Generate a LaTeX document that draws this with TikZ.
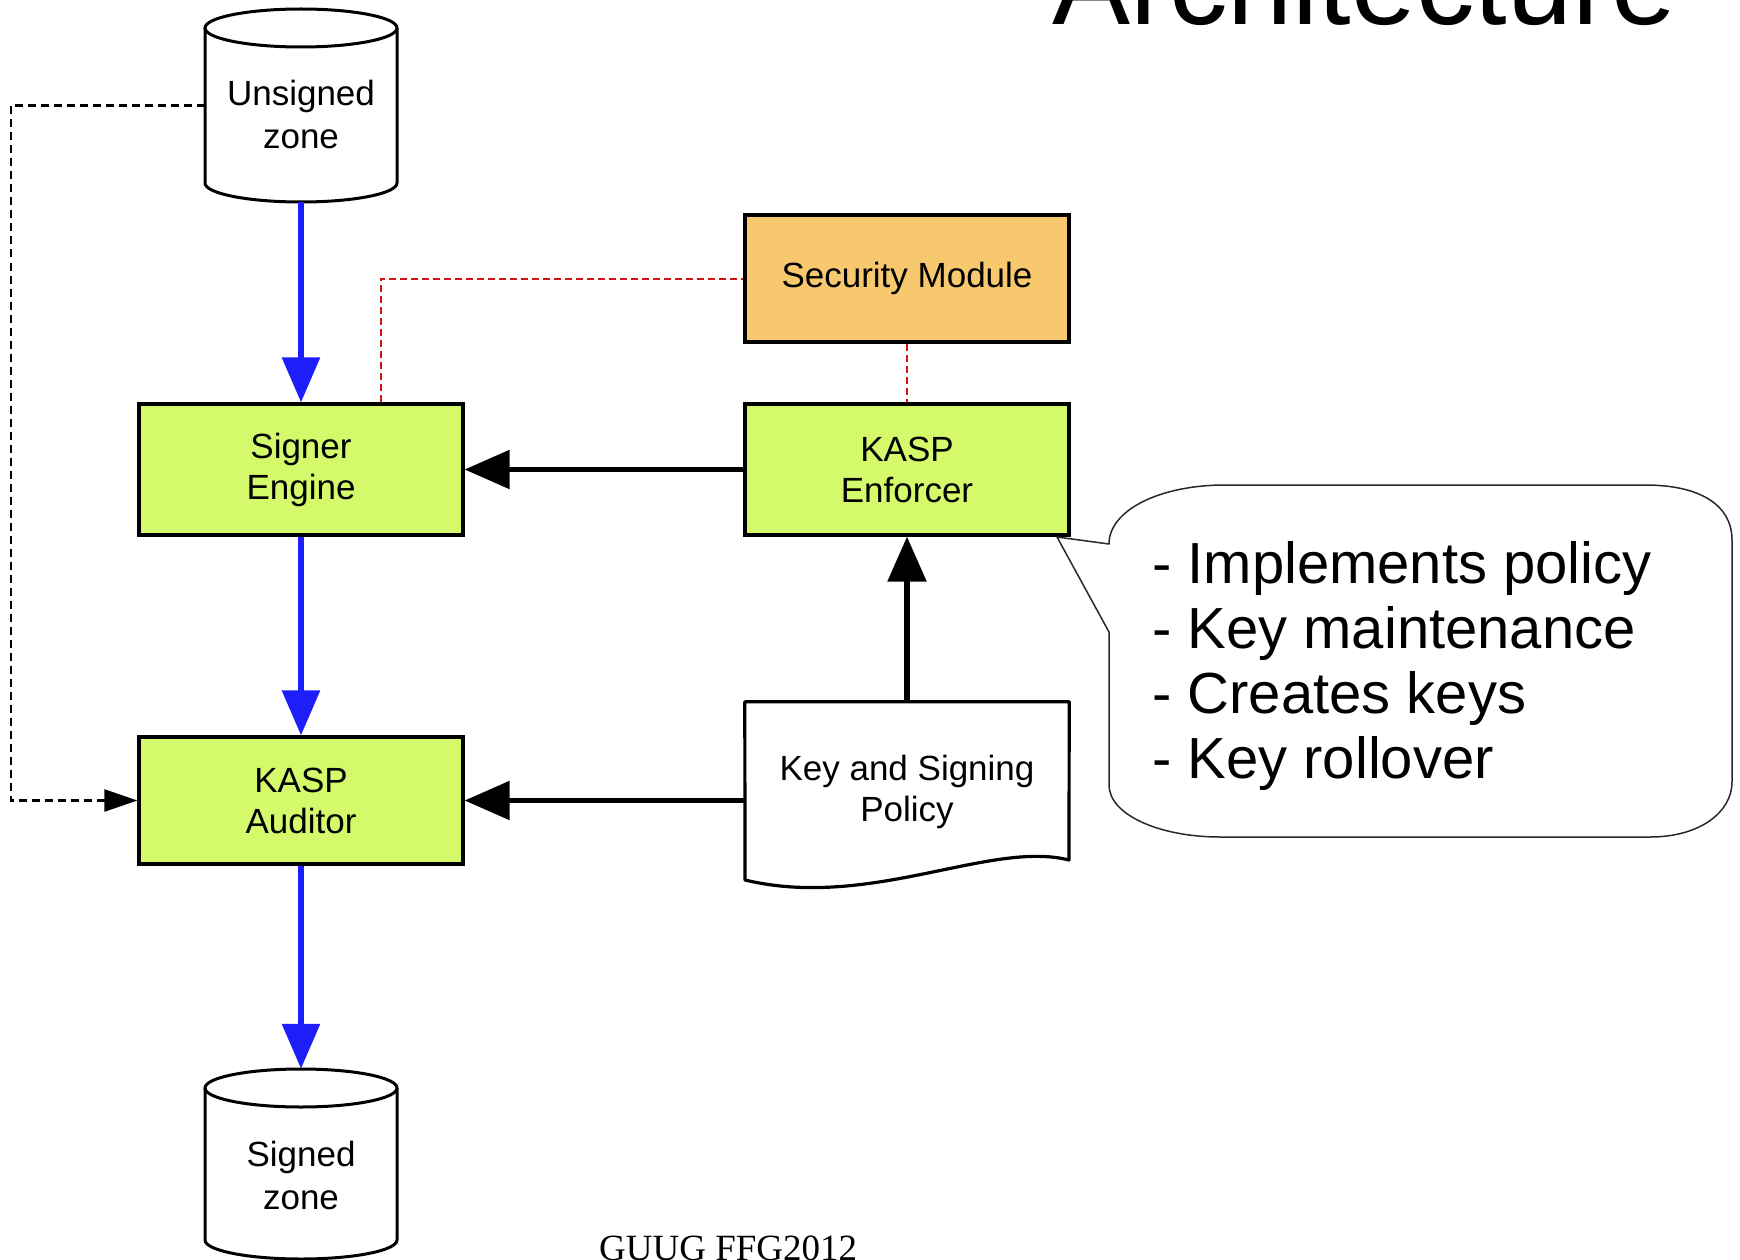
\documentclass[tikz,border=0pt]{standalone}
\usepackage{fontspec}
\setmainfont{Liberation Sans}
\newfontfamily\footerfont{Liberation Serif}
\usetikzlibrary{arrows.meta}
\definecolor{enginegreen}{RGB}{212,250,108}
\definecolor{moduleorange}{RGB}{248,200,110}
\definecolor{flowblue}{RGB}{30,30,250}
\definecolor{linkred}{RGB}{210,20,20}
\definecolor{bubblegray}{RGB}{40,40,40}
\begin{document}
\begin{tikzpicture}[x=1pt,y=-1pt,
  block/.style={draw=black, line width=3.2pt, minimum width=324pt, inner sep=0pt,
    align=center, font=\fontsize{35}{41}\selectfont},
  area/.style={draw=none, minimum width=192pt, inner sep=0pt},
  cyltext/.style={align=center, inner sep=0pt, font=\fontsize{35}{43}\selectfont},
  cylline/.style={draw=black, line width=3pt},
  flow/.style={draw=flowblue, line width=6pt, -{Triangle[length=45pt,width=37pt]}},
  feed/.style={draw=black, line width=5.5pt, -{Triangle[length=45pt,width=38pt]}},
  zonelink/.style={draw=black, line width=2.4pt, dash pattern=on 8pt off 5pt,
    -{Triangle[length=33pt,width=22pt]}},
  keylink/.style={draw=linkred, line width=2pt, dash pattern=on 7pt off 4pt},
  bubble/.style={draw=bubblegray, line width=1.5pt, fill=white, line join=round},
  note/.style={anchor=base west, inner sep=0pt, font=\fontsize{58}{65}\selectfont}
]
% page
\fill[white] (0,0) rectangle (1740,1260);
\useasboundingbox (0,0) rectangle (1740,1260);

% title and footer
\node[anchor=base west, inner sep=0pt, font=\fontsize{117}{120}\selectfont] (title) at (1052,25) {Architecture};
\node[anchor=base west, inner sep=0pt, font=\footerfont\fontsize{37}{40}\selectfont] (footer) at (599,1260) {GUUG FFG2012};

% processing blocks
\node[block, fill=enginegreen, minimum height=131pt] (signer) at (301,469.5) {Signer\\Engine};
\node[block, fill=enginegreen, minimum height=131pt] (enforcer) at (907,469.5) {KASP\\Enforcer};
\node[block, fill=moduleorange, minimum height=127pt] (security) at (907,278.5) {Security Module};
\node[block, fill=enginegreen, minimum height=127pt] (auditor) at (301,800.5) {KASP\\Auditor};

% zone databases
\draw[cylline] (205,28) -- (205,183) arc[start angle=180, end angle=0, x radius=96, y radius=19] -- (397,28);
\draw[cylline] (301,28) ellipse[x radius=96, y radius=19];
\node[area, minimum height=193pt] (unsigned) at (301,105.5) {};
\node[cyltext] (unsignedlabel) at (301,114) {Unsigned\\zone};

\draw[cylline] (205,1088) -- (205,1240) arc[start angle=180, end angle=0, x radius=96, y radius=19] -- (397,1088);
\draw[cylline] (301,1088) ellipse[x radius=96, y radius=19];
\node[area, minimum height=190pt] (signed) at (301,1164) {};
\node[cyltext] (signedlabel) at (301,1175) {Signed\\zone};

% policy document
\node[inner sep=0pt, minimum width=324pt, minimum height=180pt, align=center,
  font=\fontsize{35}{41}\selectfont] (policy) at (907,792) {Key and Signing\\Policy};
\draw[line width=3.2pt, line join=round] (policy.north west) -- (policy.north east) -- (1069,860)
  .. controls (990,840) and (870,910) .. (745,880) -- cycle;

% signing data flow
\draw[flow] (unsigned.south) -- (signer.north);
\draw[flow] (signer.south) -- (auditor.north);
\draw[flow] (auditor.south) -- (signed.north);

% key management flow
\draw[feed] (enforcer.west) -- (signer.east);
\draw[feed] (policy.north) -- (enforcer.south);
\draw[feed] (auditor.east -| policy.west) -- (auditor.east);

% unsigned zone handed to the auditor
\draw[zonelink] (unsigned.west) -- ++(-194,0) |- (auditor.west);

% links to the security module
\draw[keylink] ([xshift=80pt]signer.north) |- (security.west);
\draw[keylink] (security.south) -- (enforcer.north);

% callout on the enforcer
\draw[bubble] (1109,632) -- (1109,785)
  .. controls (1109,815) and (1160,837) .. (1220,837) -- (1650,837)
  .. controls (1700,837) and (1732,812) .. (1732,782) -- (1732,540)
  .. controls (1732,505) and (1700,485) .. (1645,485) -- (1225,485)
  .. controls (1160,485) and (1109,510) .. (1109,544) -- (1057,537) -- cycle;
\node[note] (n1) at (1152,583) {- Implements policy};
\node[note] (n2) at (1152,648) {- Key maintenance};
\node[note] (n3) at (1152,713) {- Creates keys};
\node[note] (n4) at (1152,778) {- Key rollover};
\end{tikzpicture}
\end{document}
